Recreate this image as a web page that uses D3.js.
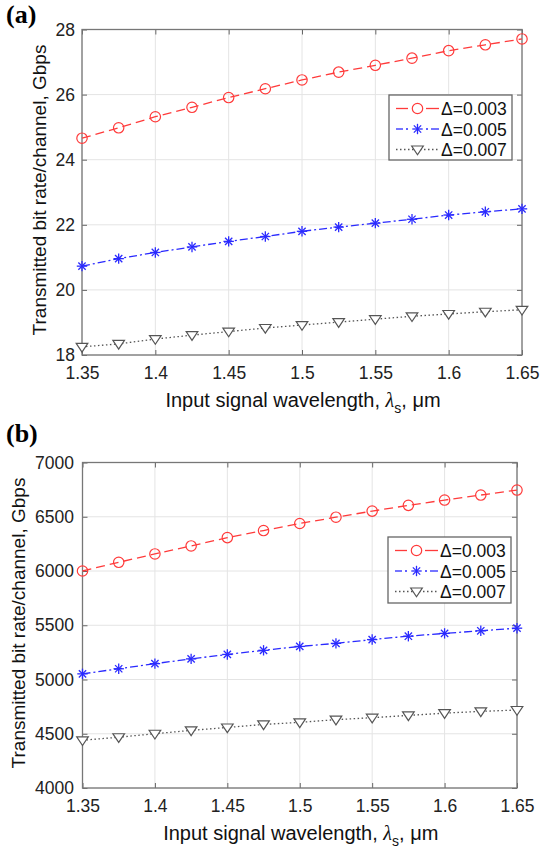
<!DOCTYPE html>
<html><head><meta charset="utf-8">
<script src="https://cdn.jsdelivr.net/npm/d3@7"></script>
<style>body{margin:0;background:#fff}svg{display:block}</style>
</head><body>
<svg id="c" width="547" height="852"></svg>
<script>
const wavelengths = [1.35,1.375,1.4,1.425,1.45,1.475,1.5,1.525,1.55,1.575,1.6,1.625,1.65];
const xTicks = [1.35,1.4,1.45,1.5,1.55,1.6,1.65];
const seriesNames = ["Δ=0.003","Δ=0.005","Δ=0.007"];
const aRed  = [24.66,24.98,25.32,25.61,25.91,26.18,26.45,26.69,26.90,27.12,27.35,27.53,27.71];
const aBlue = [20.73,20.96,21.15,21.32,21.49,21.64,21.80,21.93,22.05,22.17,22.30,22.40,22.49];
const aGray = [18.25,18.34,18.49,18.61,18.72,18.83,18.92,19.01,19.10,19.19,19.26,19.33,19.39];
const aYTicks = [18,20,22,24,26,28];
const bRed  = [6000,6080,6157,6231,6308,6373,6438,6496,6552,6605,6654,6700,6746];
const bBlue = [5052,5099,5146,5190,5231,5269,5305,5333,5368,5399,5425,5449,5473];
const bGray = [4440,4468,4500,4531,4558,4586,4605,4630,4648,4669,4690,4706,4719];
const bYTicks = [4000,4500,5000,5500,6000,6500,7000];

const svg = d3.select("#c");
const FONT = "Liberation Sans, Arial, Helvetica, sans-serif";
const styles = [
  {color:"#ff3b3b", dash:"9,5", marker:"circle"},
  {color:"#2a2aff", dash:"8,3,2,3", marker:"star"},
  {color:"#555", dash:"1.5,2.5", marker:"tri"}
];

function panel(o){
  const g = svg.append("g");
  const x = d3.scaleLinear().domain([1.35,1.65]).range([o.left,o.right]);
  const y = d3.scaleLinear().domain([o.yTicks[0], o.yTicks[o.yTicks.length-1]]).range([o.bottom,o.top]);
  // grid
  g.selectAll(".gx").data(xTicks).enter().append("line")
    .attr("x1",d=>x(d)).attr("x2",d=>x(d)).attr("y1",o.top).attr("y2",o.bottom)
    .attr("stroke","#e4e4e4").attr("stroke-width",1);
  g.selectAll(".gy").data(o.yTicks).enter().append("line")
    .attr("y1",d=>y(d)).attr("y2",d=>y(d)).attr("x1",o.left).attr("x2",o.right)
    .attr("stroke","#e4e4e4").attr("stroke-width",1);
  // axes
  const ax = d3.axisBottom(x).tickValues(xTicks).tickSize(-5).tickPadding(11.5).tickFormat(d=>String(d));
  const ay = d3.axisLeft(y).tickValues(o.yTicks).tickSize(-5).tickPadding(o.yPad).tickFormat(d=>String(d));
  g.append("g").attr("transform",`translate(0,${o.bottom})`).call(ax);
  g.append("g").attr("transform",`translate(${o.left},0)`).call(ay);
  g.append("g").attr("transform",`translate(0,${o.top})`).call(d3.axisTop(x).tickValues(xTicks).tickSize(-5).tickFormat(""));
  g.append("g").attr("transform",`translate(${o.right},0)`).call(d3.axisRight(y).tickValues(o.yTicks).tickSize(-5).tickFormat(""));
  g.selectAll(".domain").remove();
  g.selectAll(".tick line").attr("stroke","#666");
  g.selectAll(".tick text").attr("font-family",FONT).attr("font-size",17.5).attr("fill","#222");
  g.append("rect").attr("x",o.left).attr("y",o.top).attr("width",o.right-o.left).attr("height",o.bottom-o.top)
    .attr("fill","none").attr("stroke","#777").attr("stroke-width",1.3);
  // series
  const line = d3.line().x((d,i)=>x(wavelengths[i])).y(d=>y(d));
  o.series.forEach((s,k)=>{
    const st = styles[k];
    g.append("path").datum(s).attr("d",line).attr("fill","none")
      .attr("stroke",st.color).attr("stroke-width",1.3).attr("stroke-dasharray",st.dash);
    s.forEach((v,i)=>drawMarker(g, st, x(wavelengths[i]), y(v)));
  });
  // legend
  const L = o.legend;
  g.append("rect").attr("x",L.x).attr("y",L.y).attr("width",L.w).attr("height",L.h)
    .attr("fill","#fff").attr("stroke","#666").attr("stroke-width",1.3);
  seriesNames.forEach((n,k)=>{
    const st = styles[k];
    const yy = L.y + 13.5 + k*20.5;
    const seg = (x1,x2,c,dash)=>g.append("line").attr("x1",L.x+x1).attr("x2",L.x+x2).attr("y1",yy).attr("y2",yy)
      .attr("stroke",c).attr("stroke-width",1.3).attr("stroke-dasharray",dash||null);
    if(k===0){ seg(7,19,st.color); seg(37,50,st.color); }
    else if(k===1){ seg(7,14,st.color); seg(17,19,st.color); seg(37,39,st.color); seg(42,50,st.color); }
    else { seg(7,50,st.color,"1.5,2.5"); }
    drawMarker(g, st, L.x+28.5, yy);
    g.append("text").attr("x",L.x+52).attr("y",yy+6.5).text(n)
      .attr("font-family",FONT).attr("font-size",17.5).attr("fill","#111");
  });
  // labels
  g.append("text").attr("x",(o.left+o.right)/2+1).attr("y",o.xLabelY).attr("text-anchor","middle")
    .attr("font-family",FONT).attr("font-size",20).attr("fill","#111")
    .call(t=>{
      t.append("tspan").text("Input signal wavelength, ");
      t.append("tspan").text("λ").attr("font-style","italic").attr("font-family","Liberation Serif, Times New Roman, serif");
      t.append("tspan").text("s").attr("font-size",14).attr("dy",6);
      t.append("tspan").text(", μm").attr("dy",-6);
    });
  g.append("text").attr("transform",`translate(${o.yLabelX},${o.yLabelC}) rotate(-90)`)
    .attr("text-anchor","middle").attr("font-family",FONT).attr("font-size",19).attr("fill","#111")
    .text("Transmitted bit rate/channel, Gbps");
  g.append("text").attr("x",6).attr("y",o.tagY).text(o.tag)
    .attr("font-family","Liberation Serif, Times New Roman, serif").attr("font-weight","bold").attr("font-size",26).attr("fill","#000");
}

function drawMarker(g, st, cx, cy){
  if(st.marker==="circle"){
    g.append("circle").attr("cx",cx).attr("cy",cy).attr("r",5.2).attr("fill","none").attr("stroke",st.color).attr("stroke-width",1.2);
  } else if(st.marker==="star"){
    const r=5.2;
    [[0,1],[1,0],[0.7,0.7],[0.7,-0.7]].forEach(([a,b])=>{
      g.append("line").attr("x1",cx-a*r).attr("x2",cx+a*r).attr("y1",cy-b*r).attr("y2",cy+b*r)
        .attr("stroke",st.color).attr("stroke-width",1.3);
    });
  } else {
    const r=5.8;
    g.append("path").attr("d",`M${cx-r},${cy-r*0.6}L${cx+r},${cy-r*0.6}L${cx},${cy+r*0.9}Z`)
      .attr("fill","#fff").attr("stroke","#555").attr("stroke-width",1.2);
  }
}

panel({left:82,right:522,top:29.5,bottom:355,yTicks:aYTicks,series:[aRed,aBlue,aGray],yPad:7,
  legend:{x:389,y:95,w:123,h:65},xLabelY:407,yLabelX:46,yLabelC:190,tag:"(a)",tagY:23});
panel({left:82.5,right:517,top:462.5,bottom:788,yTicks:bYTicks,series:[bRed,bBlue,bGray],yPad:8.5,
  legend:{x:388,y:537,w:123,h:66},xLabelY:840,yLabelX:25,yLabelC:623,tag:"(b)",tagY:442});
</script>
</body></html>
